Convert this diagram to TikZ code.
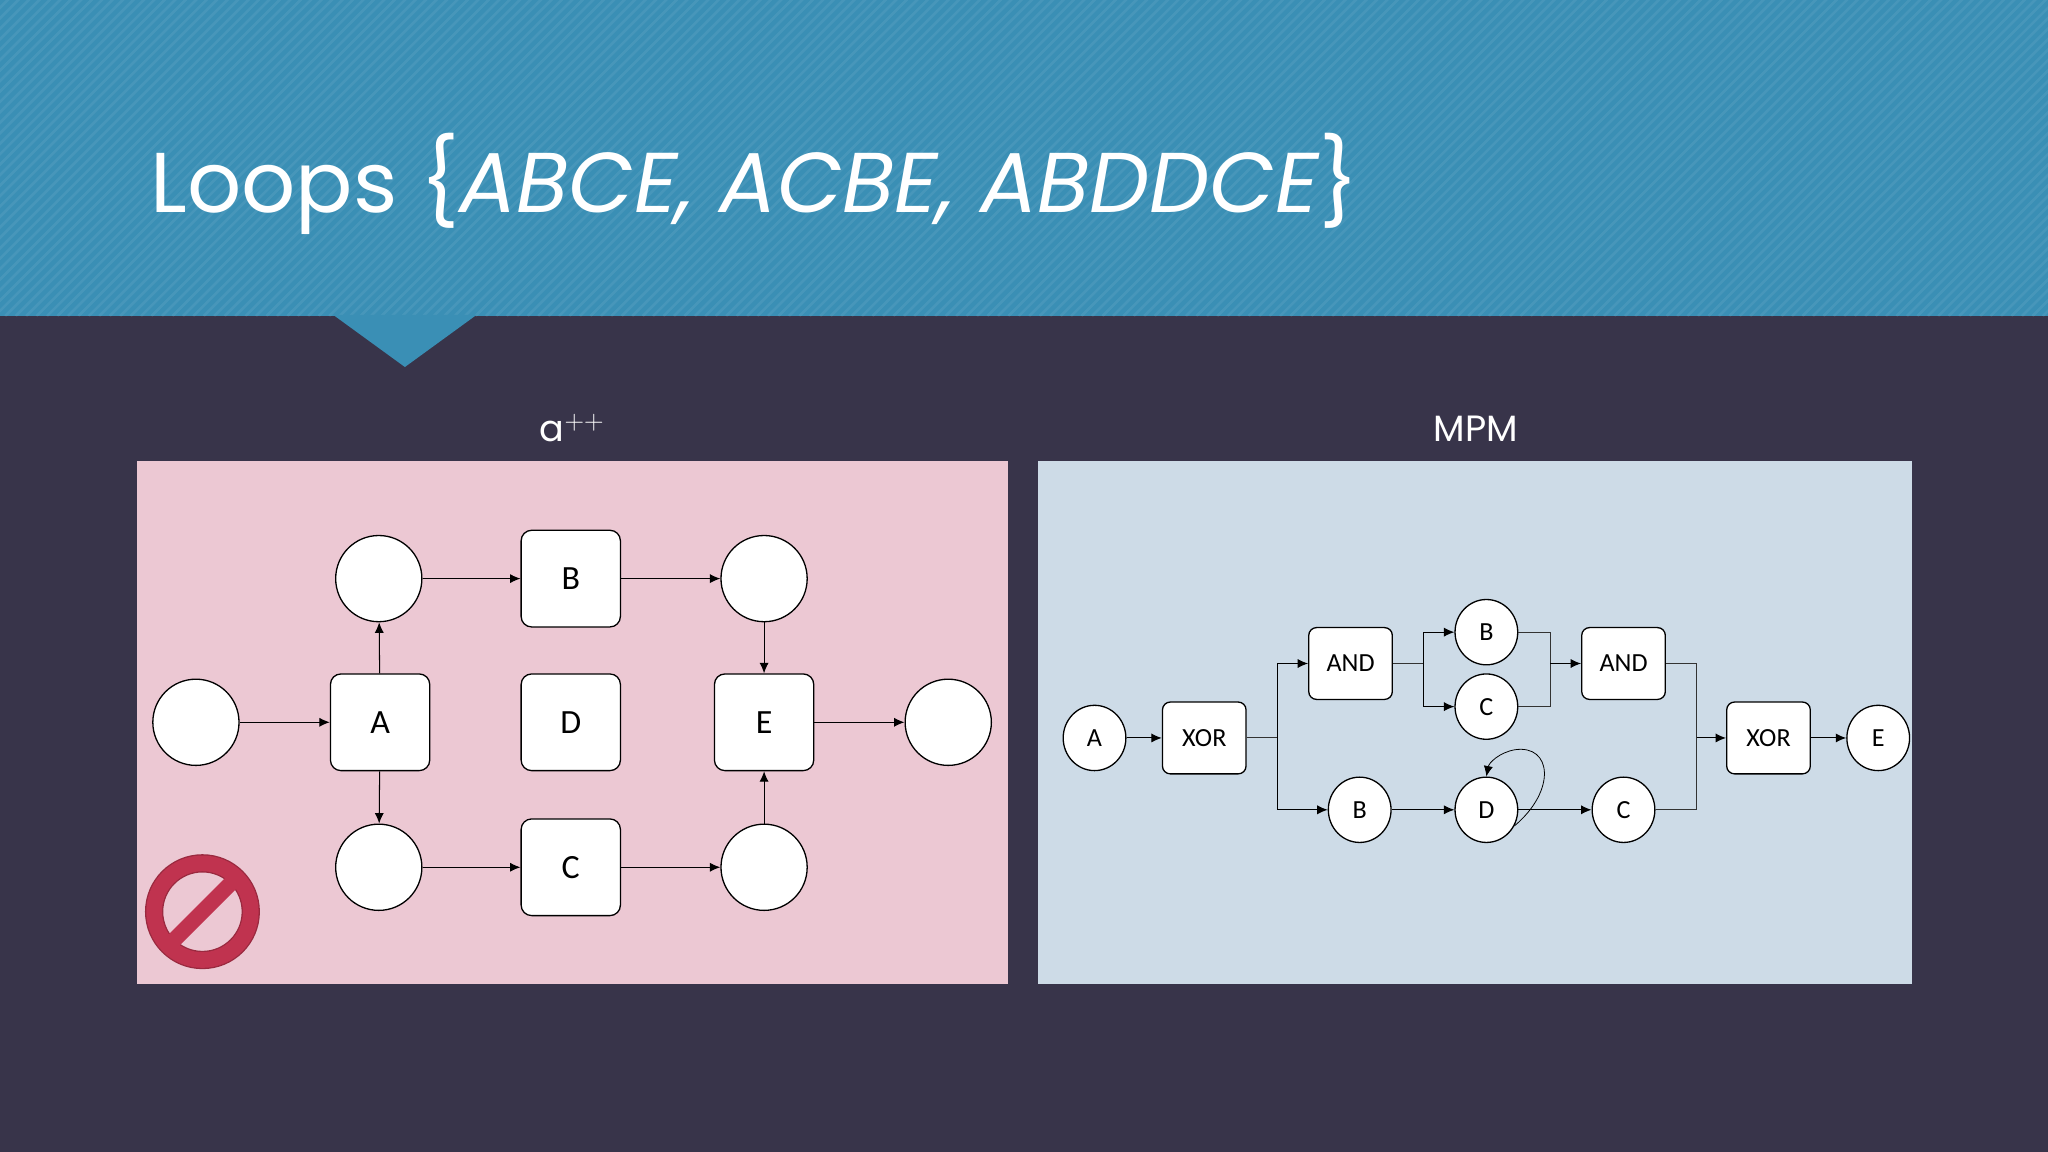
\documentclass[tikz,border=0pt]{standalone}
\usepackage{fontspec}
\setmainfont{Poppins}
\newfontfamily\carlitofont{Carlito}
\usetikzlibrary{arrows.meta,shapes.geometric}
\definecolor{bg}{HTML}{38344A}
\definecolor{ban}{HTML}{3A8FB5}
\definecolor{pinkp}{HTML}{ECC8D3}
\definecolor{bluep}{HTML}{CDDBE7}
\definecolor{nored}{HTML}{C0334F}
\tikzset{
 circ/.style={circle,draw=black,fill=white,line width=1pt,minimum size=66pt,inner sep=0pt},
 rbox/.style={rectangle,rounded corners=8pt,draw=black,fill=white,line width=1pt,minimum width=76pt,minimum height=74pt,font=\carlitofont\fontsize{26}{28}\selectfont},
 ell/.style={ellipse,draw=black,fill=white,line width=1pt,minimum width=48pt,minimum height=50pt,inner sep=0pt,font=\carlitofont\fontsize{20}{22}\selectfont},
 gbox/.style={rectangle,rounded corners=6pt,draw=black,fill=white,line width=1pt,minimum width=64pt,minimum height=55pt,font=\carlitofont\fontsize{20}{22}\selectfont},
 arr/.style={-{Latex[length=8pt,width=7pt]},line width=0.8pt,black},
 ln/.style={line width=0.8pt,black!80}
}
\begin{document}
\begin{tikzpicture}[x=1pt,y=-1pt]
\useasboundingbox (0,0) rectangle (1568,882);
\fill[bg] (0,0) rectangle (1568,882);
\fill[ban] (0,0) rectangle (1568,242);
\begin{scope}
\clip (0,0) rectangle (1568,242);
\foreach \i in {-300,-292,...,1568} \draw[white,opacity=0.07,line width=2pt] (\i,242) -- ++(250,-250);
\end{scope}
\fill[ban] (255,241) -- (365,241) -- (310,281) -- cycle;
\node[anchor=base west,text=white,inner sep=0,font=\fontsize{65}{70}\selectfont] (title) at (115,163) {Loops \{\textit{ABCE, ACBE, ABDDCE}\}};
\node[text=white,font=\fontsize{28}{30}\selectfont] (la) at (438,328) {a$^{++}$};
\node[text=white,font=\fontsize{28}{30}\selectfont] (lm) at (1130,328) {MPM};
\fill[pinkp] (105,353) rectangle (772,753);
\fill[bluep] (795,353) rectangle (1464,753);
% left
\node[circ] (s) at (150,553) {};
\node[circ] (t1) at (290,443) {};
\node[circ] (t2) at (585,443) {};
\node[circ] (b1) at (290,664) {};
\node[circ] (b2) at (585,664) {};
\node[circ] (e) at (726,553) {};
\node[rbox] (A) at (291,553) {A};
\node[rbox] (B) at (437,443) {B};
\node[rbox] (D) at (437,553) {D};
\node[rbox] (E) at (585,553) {E};
\node[rbox] (C) at (437,664) {C};
\draw[arr] (s) -- (A);
\draw[arr] (A) -- (t1);
\draw[arr] (A) -- (b1);
\draw[arr] (t1) -- (B);
\draw[arr] (B) -- (t2);
\draw[arr] (t2) -- (E);
\draw[arr] (b1) -- (C);
\draw[arr] (C) -- (b2);
\draw[arr] (b2) -- (E);
\draw[arr] (E) -- (e);
% no sign
\draw[nored!80!black,line width=14pt] (155,698) circle (37);
\draw[nored,line width=12pt] (155,698) circle (37);
\draw[nored,line width=12pt] (155,698) ++(135:37) -- ++(-45:74);
% right
\node[ell] (rA) at (838,565) {A};
\node[gbox] (x1) at (922,565) {XOR};
\node[gbox] (a1) at (1034,508) {AND};
\node[ell] (rB) at (1138,484) {B};
\node[ell] (rC) at (1138,541) {C};
\node[gbox] (a2) at (1243,508) {AND};
\node[ell] (bB) at (1041,620) {B};
\node[ell] (bD) at (1138,620) {D};
\node[ell] (bC) at (1243,620) {C};
\node[gbox] (x2) at (1354,565) {XOR};
\node[ell] (rE) at (1438,565) {E};
\coordinate (j1) at (978,565);
\coordinate (j2) at (1090,508);
\coordinate (j3) at (1187,508);
\coordinate (j4) at (1299,565);
\draw[arr] (rA) -- (x1);
\draw[ln] (x1.east) -- (j1);
\draw[arr] (j1) |- (a1.west);
\draw[arr] (j1) |- (bB.west);
\draw[ln] (a1.east) -- (j2);
\draw[arr] (j2) |- (rB.west);
\draw[arr] (j2) |- (rC.west);
\draw[ln] (rB.east) -| (j3);
\draw[ln] (rC.east) -| (j3);
\draw[arr] (j3) -- (a2.west);
\draw[arr] (bB) -- (bD);
\draw[arr] (bD) -- (bC);
\draw[ln] (a2.east) -| (j4);
\draw[ln] (bC.east) -| (j4);
\draw[arr] (j4) -- (x2.west);
\draw[arr] (x2) -- (rE);
\draw[arr,line width=0.6pt] (bD.-30) .. controls (1192,605) and (1188,570) .. (1160,574) .. controls (1148,576) and (1140,584) .. (bD.north);
\end{tikzpicture}
\end{document}
